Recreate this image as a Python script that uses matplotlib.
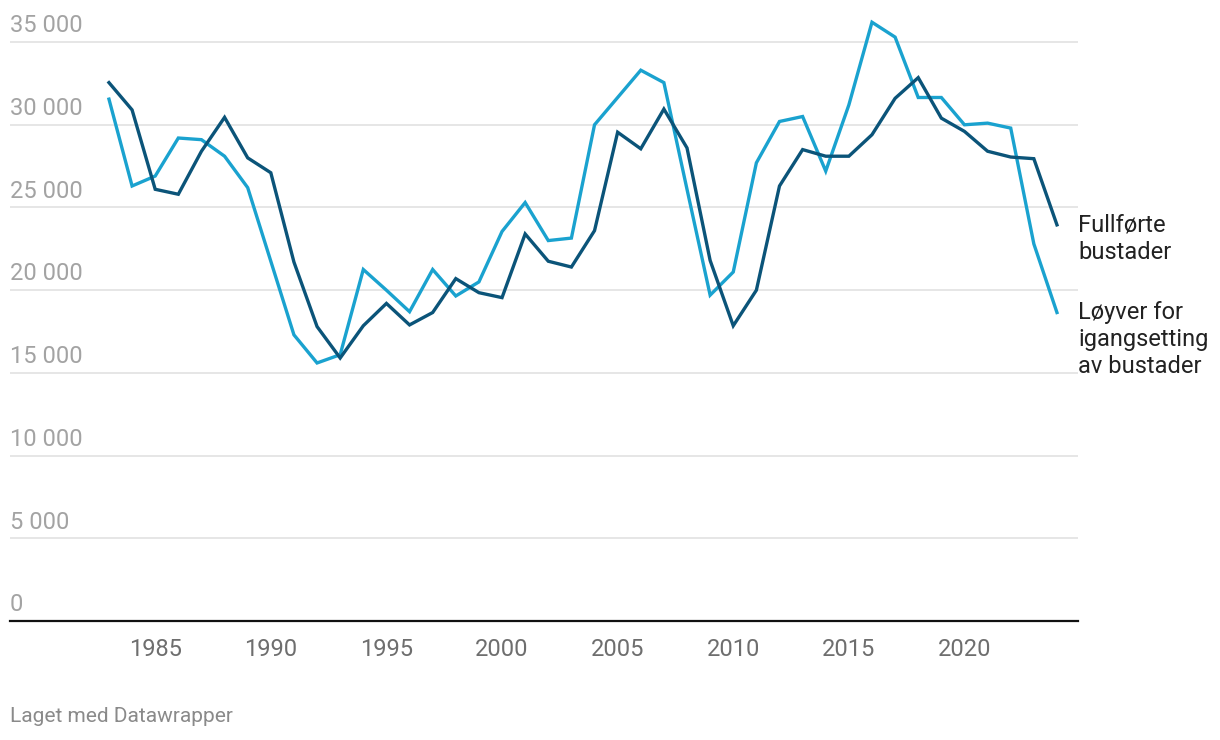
import numpy as np
import matplotlib
matplotlib.use('Agg')
import matplotlib.pyplot as plt

plt.rcParams['font.family'] = ['Roboto', 'DejaVu Sans']

# data
years = list(range(1983, 2025))
fullforte = [32550, 30900, 26100, 25800, 28400, 30450, 28000, 27100, 21700, 17800,
             15900, 17850, 19200, 17900, 18650, 20700, 19850, 19550, 23400, 21750,
             21400, 23600, 29550, 28550, 30950, 28600, 21800, 17850, 20000, 26300,
             28500, 28100, 28100, 29400, 31600, 32850, 30400, 29600, 28400, 28050,
             27950, 23950]
loyver = [31550, 26300, 26900, 29200, 29100, 28100, 26200, 21750, 17300, 15600,
          16100, 21250, 20000, 18700, 21250, 19650, 20500, 23550, 25300, 23000,
          23150, 30000, 31650, 33300, 32550, 26100, 19700, 21100, 27700, 30200,
          30500, 27200, 31200, 36200, 35300, 31650, 31650, 30000, 30100, 29800,
          22800, 18650]

yticks = [0, 5000, 10000, 15000, 20000, 25000, 30000, 35000]
xticks = [1985, 1990, 1995, 2000, 2005, 2010, 2015, 2020]

dark = '#0b5479'
light = '#1aa2cf'

fig = plt.figure(figsize=(12.2, 7.4), dpi=100)
ax = fig.add_axes([10/1220, 119/740, 1068/1220, 612/740])

ax.plot(years, fullforte, color=dark, lw=2.4, solid_joinstyle='miter', zorder=3)
ax.plot(years, loyver, color=light, lw=2.4, solid_joinstyle='miter', zorder=2)

ax.set_xlim(1978.72, 2024.91)
ax.set_ylim(0, 37000)

for s in ['top', 'right', 'left']:
    ax.spines[s].set_visible(False)
ax.spines['bottom'].set_color('#111111')
ax.spines['bottom'].set_linewidth(1.6)

ax.set_yticks(yticks)
ax.set_yticklabels([])
ax.tick_params(axis='y', length=0)
for v in yticks[1:]:
    ax.axhline(v, color='#e2e2e2', lw=1.2, zorder=1)
for v in yticks:
    ax.annotate(f'{v:,}'.replace(',', ' '), xy=(0, v), xycoords=('axes fraction', 'data'),
                xytext=(0, 7), textcoords='offset points', ha='left', va='baseline',
                fontsize=17, color='#a3a3a3')

ax.set_xticks(xticks)
ax.set_xticklabels([str(x) for x in xticks], fontsize=17, color='#6e6e6e')
ax.tick_params(axis='x', length=0, pad=12)

ax.annotate('Fullførte\nbustader', xy=(1, fullforte[-1]), xycoords=('axes fraction', 'data'),
            xytext=(0, 8), textcoords='offset points', ha='left', va='top',
            fontsize=17, color='#222222', linespacing=1.22, annotation_clip=False)
ax.annotate('Løyver for\nigangsetting\nav bustader', xy=(1, loyver[-1]),
            xycoords=('axes fraction', 'data'), xytext=(0, 8), textcoords='offset points',
            ha='left', va='top', fontsize=17, color='#222222', linespacing=1.22,
            annotation_clip=False)

fig.text(10/1220, 1 - 722/740, 'Laget med Datawrapper', ha='left', va='baseline',
         fontsize=15, color='#8a8a8a')

fig.savefig('out.png', dpi=100)
